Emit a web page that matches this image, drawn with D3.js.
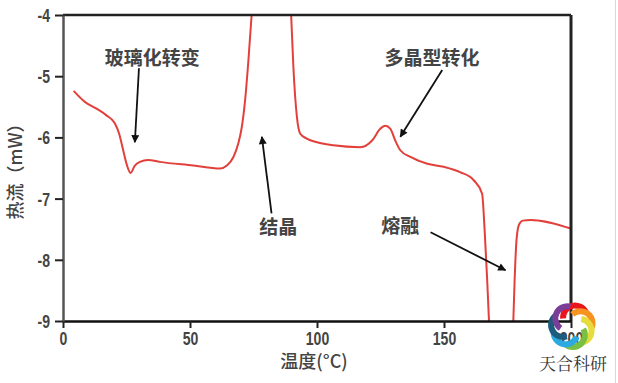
<!DOCTYPE html>
<html><head><meta charset="utf-8">
<script src="https://cdn.jsdelivr.net/npm/d3@7"></script>
<style>body{margin:0;background:#fff;overflow:hidden}</style>
</head><body>
<svg id="c" width="618" height="383"></svg>
<script>
// ---- data ----
const temperature = [4.2, 8.6, 13.2, 17.1, 20.4, 22.1, 23.7, 25.0, 26.6, 28.3, 30.3, 33.5, 38.1, 51.3, 61.8, 64.5, 67.1, 69.0, 70.4, 71.7, 73.0, 74.3, 77.0, 87.5, 89.8, 90.7, 92.1, 93.4, 96.0, 100.0, 106.4, 117.0, 121.7, 124.9, 126.9, 128.9, 130.8, 132.8, 136.8, 143.4, 149.9, 156.5, 161.7, 165.0, 166.0, 167.0, 167.7, 170.0, 175.0, 177.3, 177.8, 178.6, 179.6, 181.0, 184.1, 199.9];
const heatFlow = [-5.24, -5.42, -5.53, -5.64, -5.77, -5.94, -6.21, -6.43, -6.58, -6.46, -6.40, -6.37, -6.40, -6.46, -6.51, -6.46, -6.32, -6.10, -5.83, -5.39, -4.74, -3.98, -2.9, -2.9, -3.98, -4.85, -5.67, -5.94, -6.02, -6.08, -6.13, -6.16, -6.05, -5.86, -5.81, -5.86, -6.05, -6.21, -6.32, -6.43, -6.48, -6.57, -6.70, -6.92, -7.52, -8.33, -8.99, -10.6, -10.6, -8.99, -8.34, -7.65, -7.42, -7.36, -7.35, -7.49];
const xTicks = [0, 50, 100, 150, 200];
const yTicks = [-4, -5, -6, -7, -8, -9];
const xLabel = "温度(°C)";
const yLabel = "热流（mW）";
const annoText = ["玻璃化转变", "结晶", "多晶型转化", "熔融"];
// text anchor (T, HF) and arrow (from T,HF -> to T,HF), in data units
const annoTextAt = [[35.1, -4.71], [84.7, -7.47], [145.3, -4.71], [132.8, -7.45]];
const annoArrow = [[[29.9, -4.87], [28.3, -6.08]], [[82.1, -7.24], [78.3, -5.99]], [[149.3, -4.90], [132.8, -5.99]], [[144.7, -7.55], [174.2, -8.17]]];
const logoColors = ["#e9161d", "#f6941f", "#e6dc3c", "#79bf43", "#2aaae1", "#1c5d7f", "#7a3e98"];
const logoText = "天合科研";

// ---- layout ----
const W = 618, H = 383;
const m = {l: 63, r: 47, t: 15, b: 62};
const svg = d3.select("#c");
const x = d3.scaleLinear().domain([0, 200]).range([m.l, W - m.r]);
const y = d3.scaleLinear().domain([-9, -4]).range([H - m.b, m.t]);

svg.append("rect").attr("width", W).attr("height", H).attr("fill", "#fff");
svg.append("line").attr("x1", 615.5).attr("x2", 615.5).attr("y1", 0).attr("y2", H)
  .attr("stroke", "#d8d8d8").attr("stroke-width", 1);

svg.append("defs").append("clipPath").attr("id", "clip")
  .append("rect").attr("x", m.l).attr("y", m.t).attr("width", W - m.l - m.r).attr("height", H - m.t - m.b);
svg.select("defs").append("marker").attr("id", "ah").attr("viewBox", "0 0 10 10")
  .attr("refX", 9).attr("refY", 5).attr("markerWidth", 10).attr("markerHeight", 8)
  .attr("markerUnits", "userSpaceOnUse").attr("orient", "auto")
  .append("path").attr("d", "M0,0 L10,5 L0,10 z").attr("fill", "#111");

// curve
const pts = temperature.map((t, i) => [t, heatFlow[i]]);
svg.append("path").datum(pts).attr("clip-path", "url(#clip)")
  .attr("fill", "none").attr("stroke", "#e2403a").attr("stroke-width", 2)
  .attr("d", d3.line().x(d => x(d[0])).y(d => y(d[1])).curve(d3.curveMonotoneX));

// frame
const frame = svg.append("g");
frame.append("line").attr("x1", x(0)).attr("x2", x(200)).attr("y1", y(-4)).attr("y2", y(-4))
  .attr("stroke", "#222").attr("stroke-width", 2.5);
frame.append("line").attr("x1", x(200)).attr("x2", x(200)).attr("y1", y(-4)).attr("y2", y(-9))
  .attr("stroke", "#222").attr("stroke-width", 3);

// axes
const tickFont = "'Liberation Sans',Arial,sans-serif";
const fmt = d => String(d);
const gx = svg.append("g").attr("transform", `translate(0,${y(-9)})`)
  .call(d3.axisBottom(x).tickValues(xTicks).tickFormat(fmt).tickSize(7).tickPadding(4).tickSizeOuter(0));
const gy = svg.append("g").attr("transform", `translate(${x(0)},0)`)
  .call(d3.axisLeft(y).tickValues(yTicks).tickFormat(fmt).tickSize(8).tickPadding(4).tickSizeOuter(0));
gx.select(".domain").attr("stroke", "#111").attr("stroke-width", 2.5);
gy.select(".domain").attr("stroke", "#555").attr("stroke-width", 2.5);
[gx, gy].forEach(g => {
  g.selectAll(".tick line").attr("stroke", "#222").attr("stroke-width", 2);
  g.selectAll(".tick text").attr("font-family", tickFont).attr("font-size", 18)
    .attr("font-weight", "bold").attr("fill", "#444");
});
gx.selectAll(".tick text").attr("transform", "scale(0.78,1)");
gy.selectAll(".tick text").attr("dy", "0.36em").attr("x", -13 / 0.78).attr("transform", "scale(0.78,1)");

// axis labels
const cjk = "'Noto Sans CJK SC','Noto Sans',sans-serif";
svg.append("text").attr("x", (x(0) + x(200)) / 2 - 3).attr("y", 368)
  .attr("text-anchor", "middle").attr("font-family", cjk).attr("font-size", 18)
  .attr("font-weight", 500).attr("fill", "#444").text(xLabel);
svg.append("text").attr("transform", `translate(22,${167}) rotate(-90)`)
  .attr("text-anchor", "middle").attr("font-family", cjk).attr("font-size", 18)
  .attr("font-weight", 500).attr("fill", "#444").text(yLabel);

// annotations
const ag = svg.append("g");
annoText.forEach((t, i) => {
  ag.append("text").attr("x", x(annoTextAt[i][0])).attr("y", y(annoTextAt[i][1]))
    .attr("dy", "0.36em").attr("text-anchor", "middle").attr("font-family", cjk)
    .attr("font-size", 19).attr("font-weight", "bold").attr("fill", "#444").text(t);
  const a = annoArrow[i];
  ag.append("line").attr("x1", x(a[0][0])).attr("y1", y(a[0][1]))
    .attr("x2", x(a[1][0])).attr("y2", y(a[1][1]))
    .attr("stroke", "#111").attr("stroke-width", 1.8).attr("marker-end", "url(#ah)");
});

// logo
const lc = [572, 326];
const lg = svg.append("g").attr("transform", `translate(${lc[0]},${lc[1]})`);
logoColors.forEach((c, i) => {
  const a = -Math.PI / 2 + 0.35 + i * 2 * Math.PI / logoColors.length;
  const cx = 9 * Math.cos(a), cy = 9 * Math.sin(a);
  const r = 12;
  const a0 = a - 2.0, a1 = a + 0.8;
  const p = d3.path();
  p.arc(cx, cy, r, a0, a1);
  lg.append("path").attr("d", p.toString()).attr("fill", "none")
    .attr("stroke", c).attr("stroke-width", 6).attr("stroke-linecap", "butt");
});
svg.append("text").attr("x", 573).attr("y", 370).attr("text-anchor", "middle")
  .attr("font-family", "'Noto Serif CJK SC','Noto Sans CJK SC',serif").attr("font-size", 17)
  .attr("fill", "#333").text(logoText);
</script>
</body></html>
